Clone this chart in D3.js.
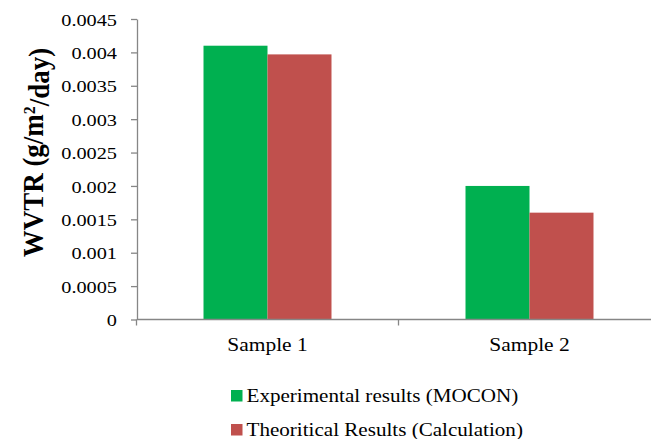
<!DOCTYPE html>
<html>
<head>
<meta charset="utf-8">
<script src="https://cdn.jsdelivr.net/npm/d3@7"></script>
<style>
  html, body { margin: 0; padding: 0; background: #fff; }
  svg { display: block; }
  text { font-family: "Liberation Serif", "Times New Roman", serif; fill: #000; }
</style>
</head>
<body>
<script>
// WVTR measurements per sample
const categories = ["Sample 1", "Sample 2"];
const seriesNames = ["Experimental results (MOCON)", "Theoritical Results (Calculation)"];
const experimental = [0.0041, 0.002];
const theoretical = [0.00397, 0.0016];
const seriesColors = ["#00B050", "#C0504D"];
const yTicks = [0, 0.0005, 0.001, 0.0015, 0.002, 0.0025, 0.003, 0.0035, 0.004, 0.0045];
const yTickLabels = ["0", "0.0005", "0.001", "0.0015", "0.002", "0.0025", "0.003", "0.0035", "0.004", "0.0045"];

const W = 651, H = 439;
const SX = 1.16;          // horizontal text widening
const axisColor = "#868686";
const serif = "'Liberation Serif', 'Times New Roman', serif";

const svg = d3.select("body").append("svg")
  .attr("width", W).attr("height", H);

const y = d3.scaleLinear().domain([0, 0.0045]).range([319.5, 19]);
const x0 = d3.scaleBand().domain(categories).range([136.5, 660.5]).paddingInner(0).paddingOuter(0);
const x1 = d3.scaleBand().domain(seriesNames).range([0, x0.bandwidth()]).paddingInner(0).paddingOuter(1.047);

const rows = categories.map((c, i) => ({ cat: c, vals: [experimental[i], theoretical[i]] }));

// bars
const groups = svg.append("g").selectAll("g").data(rows).join("g")
  .attr("transform", d => `translate(${x0(d.cat)},0)`);
groups.selectAll("rect")
  .data(d => d.vals.map((v, j) => ({ v, name: seriesNames[j], color: seriesColors[j] })))
  .join("rect")
  .attr("x", d => x1(d.name))
  .attr("y", d => y(d.v))
  .attr("width", x1.bandwidth())
  .attr("height", d => y(0) - y(d.v))
  .attr("fill", d => d.color);

// y axis
const yAxis = svg.append("g").attr("transform", "translate(137,0)")
  .call(d3.axisLeft(y).tickValues(yTicks).tickFormat((d, i) => yTickLabels[i]).tickSize(6).tickSizeOuter(0))
  .attr("font-family", serif);
yAxis.select(".domain").attr("stroke", axisColor).attr("stroke-width", 1.3);
yAxis.selectAll(".tick line").attr("stroke", axisColor).attr("stroke-width", 1.3);
yAxis.selectAll(".tick text")
  .attr("x", -20 / SX).attr("dy", "0.35em")
  .attr("transform", `scale(${SX},1)`)
  .style("font-size", "17.5px")
  .style("font-family", serif)
  .attr("fill", "#000");

// x axis
const xAxis = svg.append("g").attr("transform", `translate(0,${y(0)})`);
xAxis.append("line")
  .attr("x1", 137).attr("x2", 660.5).attr("y1", 0).attr("y2", 0)
  .attr("stroke", axisColor).attr("stroke-width", 1.3);
const bounds = categories.map(c => x0(c)).concat([x0(categories[categories.length - 1]) + x0.bandwidth()]);
xAxis.selectAll("line.tk").data(bounds).join("line").attr("class", "tk")
  .attr("x1", d => d).attr("x2", d => d).attr("y1", 0).attr("y2", 6)
  .attr("stroke", axisColor).attr("stroke-width", 1.3);
xAxis.selectAll("text").data(categories).join("text")
  .attr("transform", d => `translate(${x0(d) + x0.bandwidth() / 2},31.5) scale(${SX},1)`)
  .attr("text-anchor", "middle")
  .style("font-size", "18.5px")
  .style("font-family", serif)
  .text(d => d);

// y axis title
const title = svg.append("text")
  .attr("transform", `translate(33,152.5) rotate(-90) scale(1,1.08)`)
  .attr("text-anchor", "middle")
  .attr("dy", "0.35em")
  .style("font-size", "27px")
  .style("font-family", serif)
  .style("font-weight", "bold");
title.append("tspan").text("WVTR (g/m");
title.append("tspan").attr("dy", "-0.45em").style("font-size", "16px").text("2");
title.append("tspan").attr("dy", "0.45em").text("/day)");

// legend
const legend = svg.append("g").selectAll("g").data(seriesNames).join("g")
  .attr("transform", (d, i) => `translate(231,${390 + i * 34})`);
legend.append("rect")
  .attr("width", 11.5).attr("height", 11.5)
  .attr("fill", (d, i) => seriesColors[i]);
legend.append("text")
  .attr("transform", `translate(15.5,12) scale(${SX},1)`)
  .style("font-size", "18.2px")
  .style("font-family", serif)
  .text(d => d);
</script>
</body>
</html>
